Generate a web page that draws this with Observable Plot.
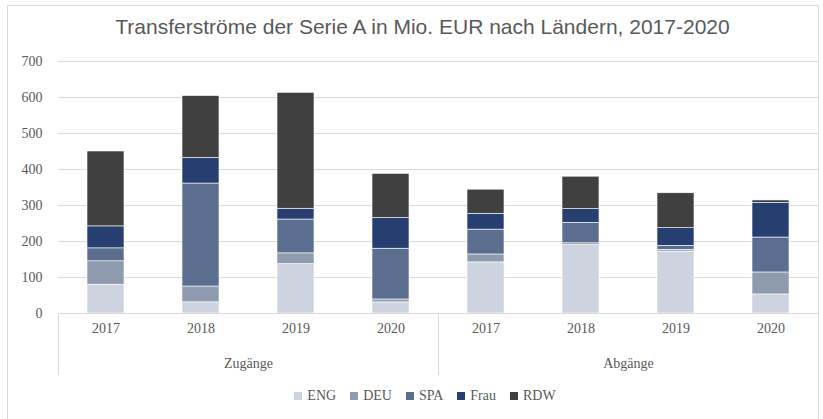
<!DOCTYPE html>
<html>
<head>
<meta charset="utf-8">
<script src="https://cdn.jsdelivr.net/npm/d3@7"></script>
<script src="https://cdn.jsdelivr.net/npm/@observablehq/plot@0.6"></script>
<style>
  html, body { margin: 0; padding: 0; background: #fff; }
  #wrap { position: relative; width: 823px; height: 419px; overflow: hidden; background: #fff; }
  #border { position: absolute; left: 7px; top: 5px; width: 812px; height: 420px; border: 1px solid #d9d9d9; box-sizing: border-box; }
  #title { position: absolute; left: 0; top: 15px; width: 845px; text-align: center;
           font-family: "Liberation Sans", sans-serif; font-size: 21px; color: #595959; }
  #chart { position: absolute; left: 0; top: 50px; }
  #legend { position: absolute; left: 0; top: 388px; width: 850px; display: flex; justify-content: center; gap: 14px;
            font-family: "Liberation Serif", serif; font-size: 14px; color: #595959; }
  #legend .item { display: flex; align-items: center; gap: 5px; }
  #legend .sw { width: 8px; height: 8px; display: inline-block; }
</style>
</head>
<body>
<div id="wrap">
  <div id="border"></div>
  <div id="title"></div>
  <div id="chart"></div>
  <div id="legend"></div>
</div>
<script>
const titleText = "Transferströme der Serie A in Mio. EUR nach Ländern, 2017-2020";
const groups = ["Zugänge", "Abgänge"];
const years = ["2017", "2018", "2019", "2020"];
const series = ["ENG", "DEU", "SPA", "Frau", "RDW"];
const colors = ["#cdd4e0", "#8e9aae", "#5b6e8f", "#273f70", "#404040"];
const yTicks = [0, 100, 200, 300, 400, 500, 600, 700];

// values per series, in order: Zugänge 2017..2020, Abgänge 2017..2020
const ENG  = [80, 31, 137, 31, 142, 190, 172, 53];
const DEU  = [65, 44, 30, 8, 22, 5, 5, 61];
const SPA  = [36, 286, 94, 141, 69, 57, 11, 97];
const Frau = [61, 71, 30, 85, 44, 38, 49, 96];
const RDW  = [208, 172, 322, 123, 67, 90, 97, 7];

const valuesBySeries = {ENG, DEU, SPA, Frau, RDW};
const data = [];
groups.forEach((g, gi) => years.forEach((yr, yi) => series.forEach(s => {
  data.push({group: g, year: yr, series: s, value: valuesBySeries[s][gi * years.length + yi]});
})));

document.getElementById("title").textContent = titleText;

const serif = "Liberation Serif, serif";
const chart = Plot.plot({
  width: 823,
  height: 330,
  marginLeft: 57,
  marginRight: 5,
  marginTop: 11,
  marginBottom: 67,
  style: {fontFamily: serif, fontSize: "14px", color: "#595959", background: "transparent"},
  fx: {domain: groups, padding: 0, axis: null},
  x: {domain: years, paddingInner: 0.61, paddingOuter: 0.305, axis: null},
  y: {domain: [0, 700], axis: null},
  color: {domain: series, range: colors},
  marks: [
    Plot.gridY(yTicks, {stroke: "#d9d9d9", strokeOpacity: 1, strokeWidth: 1}),
    Plot.barY(data, Plot.stackY({x: "year", fx: "group", y: "value", fill: "series", order: series,
      stroke: "#ffffff", strokeWidth: 0.6})),
    Plot.ruleY([0], {stroke: "#d9d9d9", strokeWidth: 1}),
    Plot.axisY(yTicks, {tickSize: 0, tickPadding: 16, label: null, fill: "#595959", fontSize: 14}),
    Plot.axisX({tickSize: 0, tickPadding: 10, label: null, fill: "#595959", fontSize: 14}),
    Plot.axisFx({anchor: "bottom", tickSize: 0, tickPadding: 45, label: null, fill: "#595959", fontSize: 14}),
    Plot.frame({anchor: "left", stroke: "#d9d9d9", insetTop: 252, insetBottom: -61}),
    Plot.frame({anchor: "right", stroke: "#d9d9d9", insetTop: 252, insetBottom: -61})
  ]
});
document.getElementById("chart").appendChild(chart);

const legend = document.getElementById("legend");
series.forEach((s, i) => {
  const item = document.createElement("span");
  item.className = "item";
  const sw = document.createElement("span");
  sw.className = "sw";
  sw.style.background = colors[i];
  const t = document.createElement("span");
  t.textContent = s;
  item.appendChild(sw);
  item.appendChild(t);
  legend.appendChild(item);
});
</script>
</body>
</html>
